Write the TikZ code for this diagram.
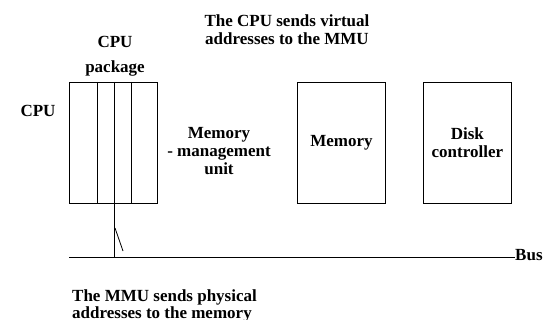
\documentclass[tikz,border=0pt]{standalone}
\usepackage{fontspec}
\setmainfont{Liberation Serif}
\usetikzlibrary{positioning}

\begin{document}
\begin{tikzpicture}[
  x=1pt, y=-1pt,
  lbl/.style={font=\bfseries\fontsize{17}{18}\selectfont,align=center,inner sep=0pt},
  unitbox/.style={draw,line width=0.8pt,minimum width=88pt,minimum height=121pt,
                  inner sep=0pt,anchor=north west,lbl},
  wire/.style={line width=0.8pt},
]
\useasboundingbox (0,0) rectangle (545,320);

% boxes on the bus
\node[unitbox] (pkg)  at (69,82)  {};
\node[unitbox] (mem)  at (297,82) {Memory};
\node[unitbox] (disk) at (423,82) {Disk\\controller};

% slices inside the CPU package
\draw[wire] (97,82)  -- (97,203);
\draw[wire] (131,82) -- (131,203);

% bus
\coordinate (busL) at (69,257);
\coordinate (tap)  at (114,257);
\node[lbl,anchor=base west] (bus) at (515,260) {Bus};
\draw[wire] (busL) -- (bus.west |- busL);
\draw[wire] (114,82) -- (tap);
\draw[wire] (115,228) -- (123,251);

% labels
\node[lbl,anchor=base] (cpu) at (38,117) {CPU};
\node[lbl] (pkglbl) at (115,56) {CPU\\[7pt]package};
\node[lbl] (mmu) at (219,151) {Memory\\- management\\unit};
\node[lbl] (virt) at (287,30) {The CPU sends virtual\\addresses to the MMU};
\node[lbl,align=left,anchor=north west,
      font=\bfseries\fontsize{17}{15}\selectfont] (phys) at (72,290)
      {The MMU sends physical\\addresses to the memory};
\end{tikzpicture}
\end{document}
